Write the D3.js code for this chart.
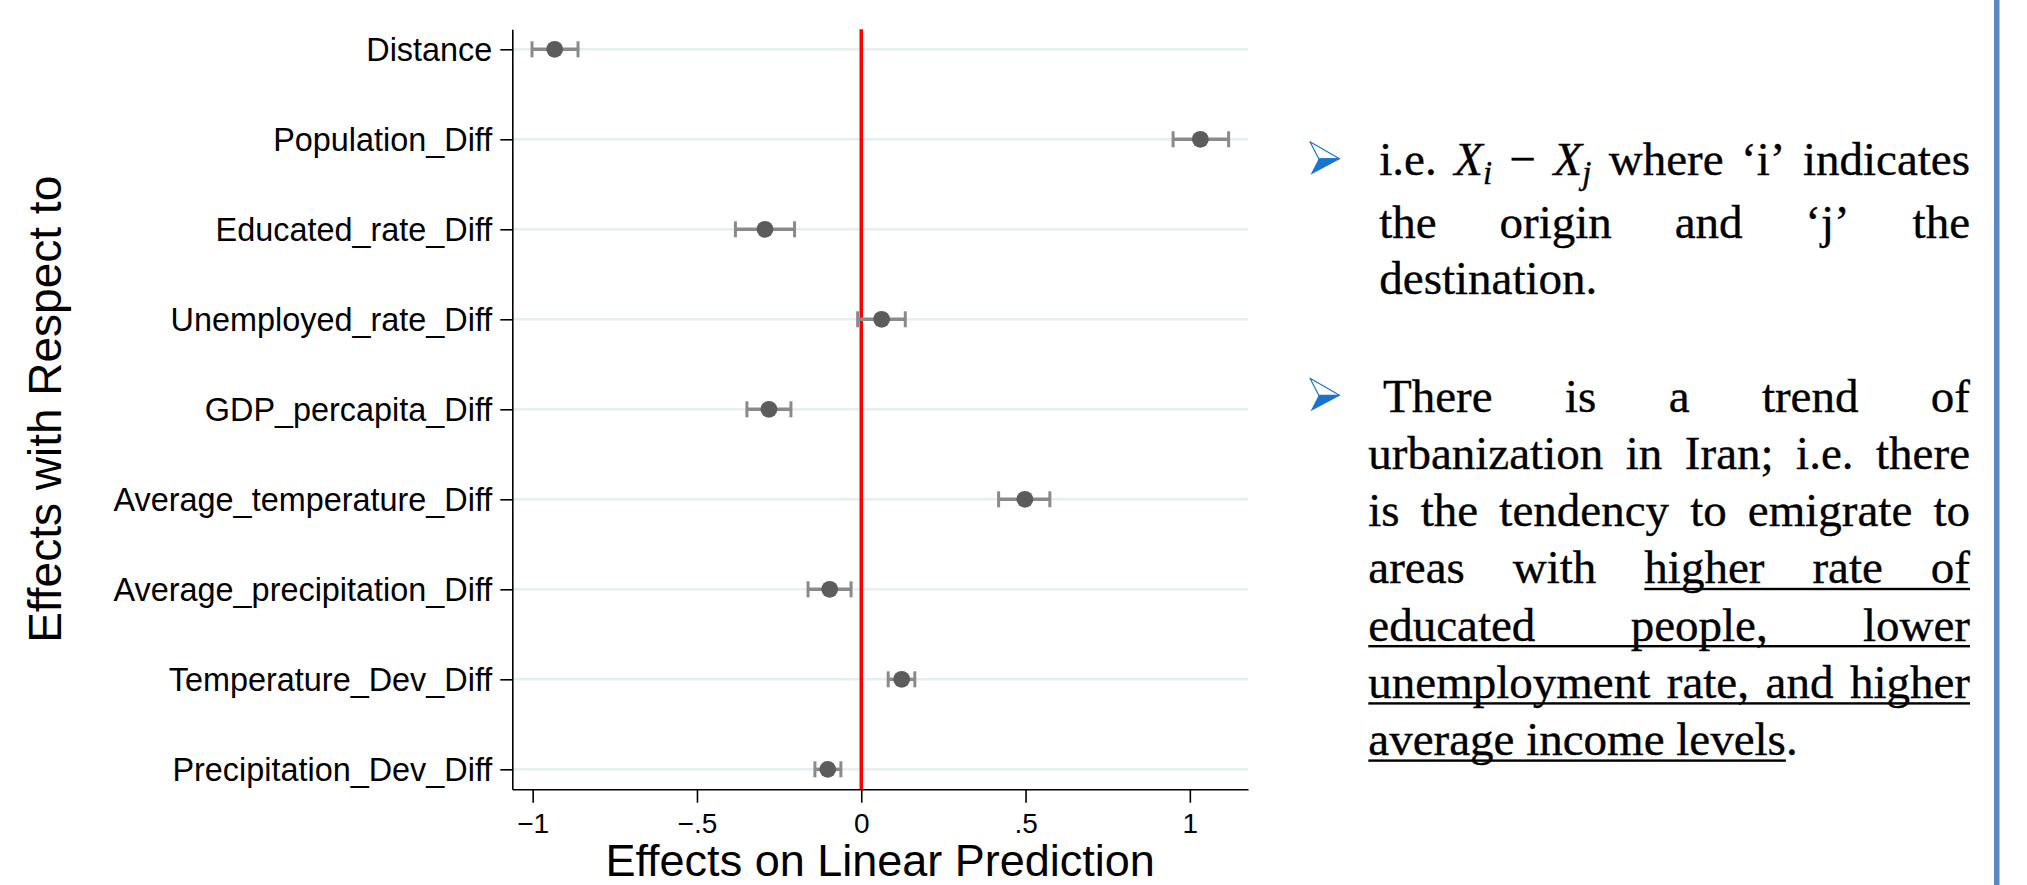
<!DOCTYPE html>
<html>
<head>
<meta charset="utf-8">
<script src="https://cdn.jsdelivr.net/npm/d3@7"></script>
<style>
  html, body { margin: 0; padding: 0; background: #fff; }
  svg { display: block; }
</style>
</head>
<body>
<svg id="chart"></svg>
<script>
// coefficient plot values
var categories = ["Distance", "Population_Diff", "Educated_rate_Diff", "Unemployed_rate_Diff",
  "GDP_percapita_Diff", "Average_temperature_Diff", "Average_precipitation_Diff",
  "Temperature_Dev_Diff", "Precipitation_Dev_Diff"];
var estimates = [-0.933, 1.032, -0.293, 0.062, -0.281, 0.498, -0.096, 0.123, -0.102];
var lowerCI   = [-1.002, 0.949, -0.383, -0.011, -0.348, 0.418, -0.162, 0.082, -0.141];
var upperCI   = [-0.862, 1.118, -0.203, 0.134, -0.214, 0.574, -0.031, 0.163, -0.062];
var xTickValues = [-1, -0.5, 0, 0.5, 1];
var xTickLabels = ["\u22121", "\u2212.5", "0", ".5", "1"];
var refLine = 0;

// side notes: {italic} ~sub~ [underline]
var para1 = ["i.e. {X~i~} \u2212 {X~j~} where \u2018i\u2019 indicates",
  "the origin and \u2018j\u2019 the",
  "destination."];
var para2 = ["There is a trend of",
  "urbanization in Iran; i.e. there",
  "is the tendency to emigrate to",
  "areas with [higher rate of",
  "educated people, lower",
  "unemployment rate, and higher",
  "average income levels]."];

var W = 2027, H = 885;
var svg = d3.select("#chart").attr("width", W).attr("height", H);

var x = d3.scaleLinear().domain([-1.062, 1.177]).range([512.3, 1248]);
var y = d3.scalePoint().domain(categories).range([29.3, 789.3]).padding(0.222);

var data = categories.map(function(c, i) {
  return {name: c, est: estimates[i], lo: lowerCI[i], hi: upperCI[i]};
});

/* grid */
svg.append("g").selectAll("line")
  .data(categories).enter().append("line")
  .attr("x1", x.range()[0]).attr("x2", x.range()[1])
  .attr("y1", function(d) { return y(d); })
  .attr("y2", function(d) { return y(d); })
  .attr("stroke", "#e6eeef")
  .attr("stroke-width", 2.5);

/* zero line */
svg.append("line")
  .attr("x1", x(refLine)).attr("x2", x(refLine))
  .attr("y1", y.range()[0]).attr("y2", y.range()[1])
  .attr("stroke", "#ff0000")
  .attr("stroke-width", 3.5);

/* axes */
var xAxis = d3.axisBottom(x)
  .tickValues(xTickValues)
  .tickFormat(function(d, i) { return xTickLabels[i]; })
  .tickSize(13.4)
  .tickSizeOuter(0)
  .tickPadding(10);

var gx = svg.append("g")
  .attr("transform", "translate(0," + y.range()[1] + ")")
  .call(xAxis);
gx.selectAll("path, line").attr("stroke", "#000").attr("stroke-width", 1.6);
gx.selectAll("text")
  .attr("fill", "#000")
  .style("font-family", "'Liberation Sans', Arial, sans-serif")
  .style("font-size", "28px");

var yAxis = d3.axisLeft(y).tickSize(12).tickSizeOuter(0).tickPadding(8);
var gy = svg.append("g")
  .attr("transform", "translate(" + x.range()[0] + ",0)")
  .call(yAxis);
gy.selectAll("path, line").attr("stroke", "#000").attr("stroke-width", 1.6);
gy.selectAll("text")
  .attr("fill", "#000")
  .attr("dy", "0.36em")
  .style("font-family", "'Liberation Sans', Arial, sans-serif")
  .style("font-size", "32.4px");

/* error bars */
var bars = svg.append("g").selectAll("g")
  .data(data).enter().append("g");

bars.append("line")
  .attr("x1", function(d) { return x(d.lo); })
  .attr("x2", function(d) { return x(d.hi); })
  .attr("y1", function(d) { return y(d.name); })
  .attr("y2", function(d) { return y(d.name); })
  .attr("stroke", "#8a8a8a")
  .attr("stroke-width", 3.5);

["lo", "hi"].forEach(function(k) {
  bars.append("line")
    .attr("x1", function(d) { return x(d[k]); })
    .attr("x2", function(d) { return x(d[k]); })
    .attr("y1", function(d) { return y(d.name) - 8; })
    .attr("y2", function(d) { return y(d.name) + 8; })
    .attr("stroke", "#8a8a8a")
    .attr("stroke-width", 3);
});

bars.append("circle")
  .attr("cx", function(d) { return x(d.est); })
  .attr("cy", function(d) { return y(d.name); })
  .attr("r", 8.4)
  .attr("fill", "#5c5c5c");

/* axis titles */
svg.append("text")
  .attr("transform", "translate(61," + ((y.range()[0] + y.range()[1]) / 2) + ") rotate(-90)")
  .attr("text-anchor", "middle")
  .style("font-family", "'Liberation Sans', Arial, sans-serif")
  .style("font-size", "46px")
  .text("Effects with Respect to");

svg.append("text")
  .attr("x", (x.range()[0] + x.range()[1]) / 2)
  .attr("y", 876)
  .attr("text-anchor", "middle")
  .style("font-family", "'Liberation Sans', Arial, sans-serif")
  .style("font-size", "45px")
  .text("Effects on Linear Prediction");

/* right side bar */
svg.append("rect")
  .attr("x", 1994).attr("y", 0)
  .attr("width", 5.5).attr("height", H)
  .attr("fill", "#5b87c5");

/* bullets */
function bullet(x0, y0) {
  var g = svg.append("g").attr("transform", "translate(" + x0 + "," + y0 + ")");
  g.append("path")
    .attr("d", "M0,0 L29.5,17 L9,17.5 Z")
    .attr("fill", "#fff")
    .attr("stroke", "#1874cd")
    .attr("stroke-width", 1.2)
    .attr("stroke-linejoin", "round");
  g.append("path")
    .attr("d", "M9,16.5 L29.5,16.5 L29.5,17.5 L0.5,33 Z")
    .attr("fill", "#1874cd");
}
bullet(1310, 141.7);
bullet(1310, 378.3);

/* justified text */
var serif = "'Liberation Serif', 'Times New Roman', serif";
var fs = 47, rightEdge = 1970;
var notes = svg.append("g").attr("fill", "#000").attr("stroke", "#000").attr("stroke-width", 0.35);

function parseWord(w, state) {
  var segs = [], cur = "", st = {i: state.i, sub: state.sub, u: state.u};
  function flush() {
    if (cur) segs.push({t: cur, i: st.i, sub: st.sub, u: st.u});
    cur = "";
  }
  for (var k = 0; k < w.length; k++) {
    var ch = w[k];
    if (ch === "{" || ch === "}" || ch === "~" || ch === "[" || ch === "]") {
      flush();
      if (ch === "{") state.i = true;
      if (ch === "}") state.i = false;
      if (ch === "~") state.sub = !state.sub;
      if (ch === "[") state.u = true;
      if (ch === "]") state.u = false;
      st = {i: state.i, sub: state.sub, u: state.u};
    } else cur += ch;
  }
  flush();
  return segs;
}

function layoutPara(lines, x0s, y0, lh) {
  var state = {i: false, sub: false, u: false};
  lines.forEach(function(line, li) {
    var by = y0[li] !== undefined ? y0[li] : y0[0] + li * lh;
    var lx = x0s[Math.min(li, x0s.length - 1)];
    var words = line.split(" ").map(function(w) { return parseWord(w, state); });
    var items = [], total = 0;
    words.forEach(function(segs) {
      var ww = 0;
      segs.forEach(function(s) {
        var t = notes.append("text")
          .style("font-family", serif)
          .style("font-size", (s.sub ? fs * 0.7 : fs) + "px")
          .style("font-style", s.i ? "italic" : "normal")
          .text(s.t);
        s.node = t;
        s.w = t.node().getComputedTextLength();
        ww += s.w;
      });
      items.push({segs: segs, w: ww});
      total += ww;
    });
    var last = li === lines.length - 1;
    var gap = (!last && items.length > 1) ? (rightEdge - lx - total) / (items.length - 1) : fs * 0.25;
    var cx = lx, ul = null, spans = [];
    items.forEach(function(it) {
      it.segs.forEach(function(s) {
        s.node.attr("x", cx).attr("y", by + (s.sub ? 9 : 0));
        if (s.u) {
          if (ul && ul.open) ul.x2 = cx + s.w;
          else { ul = {x1: cx, x2: cx + s.w, open: true}; spans.push(ul); }
        } else if (ul) ul.open = false;
        cx += s.w;
      });
      cx += gap;
    });
    spans.forEach(function(s) {
      notes.append("rect")
        .attr("stroke", "none")
        .attr("x", s.x1).attr("y", by + 4.5)
        .attr("width", s.x2 - s.x1).attr("height", 2.4);
    });
  });
}

layoutPara(para1, [1379.3], [175, 238.3, 294], 0);
layoutPara(para2, [1383, 1368.3], [411.7], 57.2);
</script>
</body>
</html>
